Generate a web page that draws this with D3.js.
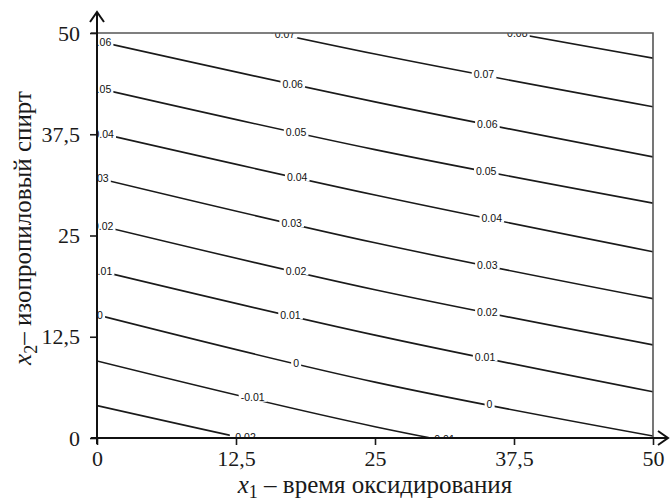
<!DOCTYPE html>
<html lang="ru">
<head>
<meta charset="UTF-8">
<title>Contour plot</title>
<script src="https://cdn.jsdelivr.net/npm/d3@7"></script>
<style>
    body { margin: 0; background: white; }
    svg { display: block; }
    .tick text { font-family: "Liberation Serif", "Times New Roman", serif; font-size: 22px; fill: #1a1a1a; }
    .tick line { stroke: #1a1a1a; stroke-width: 1.6px; }
    .axis-title { font-family: "Liberation Serif", "Times New Roman", serif; fill: #1a1a1a; }
    .clabel { font-family: "Liberation Sans", Arial, sans-serif; font-size: 10.5px; fill: #111; }
    .contour { fill: none; stroke: #1a1a1a; stroke-width: 1.6px; }
</style>
</head>
<body>
<svg id="chart" width="670" height="502"></svg>
<script>
// contour levels and where each level line sits (x2 read at x1 = 0, 25, 50)
const levels = [0.08, 0.07, 0.06, 0.05, 0.04, 0.03, 0.02, 0.01, 0, -0.01, -0.02];
const x1Nodes = [0, 25, 50];
const x2AtNodes = [
    [60.8, 53.25, 46.9],
    [54.8, 47.4, 40.9],
    [49.0, 41.5, 34.7],
    [43.2, 35.6, 29.0],
    [37.7, 30.0, 23.0],
    [32.1, 24.1, 17.2],
    [26.3, 18.3, 11.5],
    [20.7, 12.7, 5.7],
    [15.2, 6.9, 0.25],
    [9.5, 1.4, -5.0],
    [4.0, -3.5, -10.0]
];
// inline labels: [level, x1 position]
const labelSpots = [
    [0.08, 37.8],
    [0.07, 16.9], [0.07, 34.8],
    [0.06, 0.36], [0.06, 17.6], [0.06, 35.1],
    [0.05, 0.36], [0.05, 17.9], [0.05, 35.0],
    [0.04, 0.6], [0.04, 18.0], [0.04, 35.5],
    [0.03, 0.13], [0.03, 17.5], [0.03, 35.1],
    [0.02, 0.55], [0.02, 17.9], [0.02, 35.1],
    [0.01, 0.45], [0.01, 17.4], [0.01, 34.9],
    [0, 0.27], [0, 17.9], [0, 35.3],
    [-0.01, 14.0], [-0.01, 31.1],
    [-0.02, 13.2]
];
const xTicks = [0, 12.5, 25, 37.5, 50];
const yTicks = [0, 12.5, 25, 37.5, 50];

const svg = d3.select('#chart');
const pLeft = 97, pRight = 653, pTop = 33, pBottom = 438;

const x = d3.scaleLinear().domain([0, 50]).range([pLeft, pRight]);
const y = d3.scaleLinear().domain([0, 50]).range([pBottom, pTop]);

const ru = d3.formatLocale({decimal: ",", thousands: " ", grouping: [3], currency: ["", ""]});
const tickFmt = ru.format("~g");
const levelFmt = d => d === 0 ? "0" : d3.format(".2f")(d).replace("−", "-");

svg.append("clipPath").attr("id", "plotClip")
    .append("rect")
    .attr("x", pLeft).attr("y", pTop)
    .attr("width", pRight - pLeft).attr("height", pBottom - pTop);

const plot = svg.append("g").attr("clip-path", "url(#plotClip)");

// contour lines
const line = d3.line()
    .x(d => x(d[0]))
    .y(d => y(d[1]))
    .curve(d3.curveNatural);

plot.selectAll("path.contour")
    .data(levels)
    .join("path")
    .attr("class", "contour")
    .attr("d", (lv, i) => line(x1Nodes.map((v, j) => [v, x2AtNodes[i][j]])));

// inline labels with a white gap behind them
const labels = plot.append("g");
labelSpots.forEach(([lv, x1]) => {
    const i = levels.indexOf(lv);
    const at = d3.scaleLinear().domain(x1Nodes).range(x2AtNodes[i]);
    const px = x(x1), py = y(at(x1));
    const g = labels.append("g");
    const t = g.append("text")
        .attr("class", "clabel")
        .attr("x", px).attr("y", py)
        .attr("dy", "0.35em")
        .attr("text-anchor", "middle")
        .text(levelFmt(lv));
    const bb = t.node().getBBox();
    g.insert("rect", "text")
        .attr("x", bb.x - 2).attr("y", py - 4)
        .attr("width", bb.width + 4).attr("height", 8)
        .attr("fill", "white");
});

// frame (top and right)
svg.append("path")
    .attr("d", `M${pLeft - 6},${pTop}H${pRight}V${pBottom}`)
    .attr("fill", "none")
    .attr("stroke", "#555")
    .attr("stroke-width", 1.6);

// axes ticks and labels
svg.append("g")
    .attr("transform", `translate(0,${pBottom})`)
    .call(d3.axisBottom(x).tickValues(xTicks).tickFormat(tickFmt).tickSize(7).tickPadding(5).tickSizeOuter(0))
    .call(g => g.select(".domain").remove());

svg.append("g")
    .attr("transform", `translate(${pLeft},0)`)
    .call(d3.axisLeft(y).tickValues(yTicks).tickFormat(tickFmt).tickSize(7).tickPadding(10).tickSizeOuter(0))
    .call(g => g.select(".domain").remove());

// axis lines with arrows
const axisPaint = sel => sel.attr("fill", "none").attr("stroke", "#111").attr("stroke-width", 2);
svg.append("path").call(axisPaint)
    .attr("d", `M${pLeft - 6},${pBottom}H${pRight + 15}`);
svg.append("path").call(axisPaint)
    .attr("d", `M${pRight + 5},${pBottom - 7}L${pRight + 15},${pBottom}L${pRight + 5},${pBottom + 7}`);
svg.append("path").call(axisPaint)
    .attr("d", `M${pLeft},${pBottom + 6}V${pTop - 21}`);
svg.append("path").call(axisPaint)
    .attr("d", `M${pLeft - 7},${pTop - 11}L${pLeft},${pTop - 21}L${pLeft + 7},${pTop - 11}`);

// axis titles
const xt = svg.append("text").attr("class", "axis-title")
    .attr("font-size", "25px")
    .attr("x", 375).attr("y", 493)
    .attr("text-anchor", "middle");
xt.append("tspan").attr("font-style", "italic").text("x");
xt.append("tspan").attr("font-size", "18px").attr("dy", 5).text("1");
xt.append("tspan").attr("dy", -5).text(" – время оксидирования");

const yt = svg.append("text").attr("class", "axis-title")
    .attr("font-size", "25px")
    .attr("transform", `translate(31,228) rotate(-90)`)
    .attr("text-anchor", "middle");
yt.append("tspan").attr("font-style", "italic").text("x");
yt.append("tspan").attr("font-size", "18px").attr("dy", 6).text("2");
yt.append("tspan").attr("dy", -6).text("– изопропиловый спирт");
</script>
</body>
</html>
